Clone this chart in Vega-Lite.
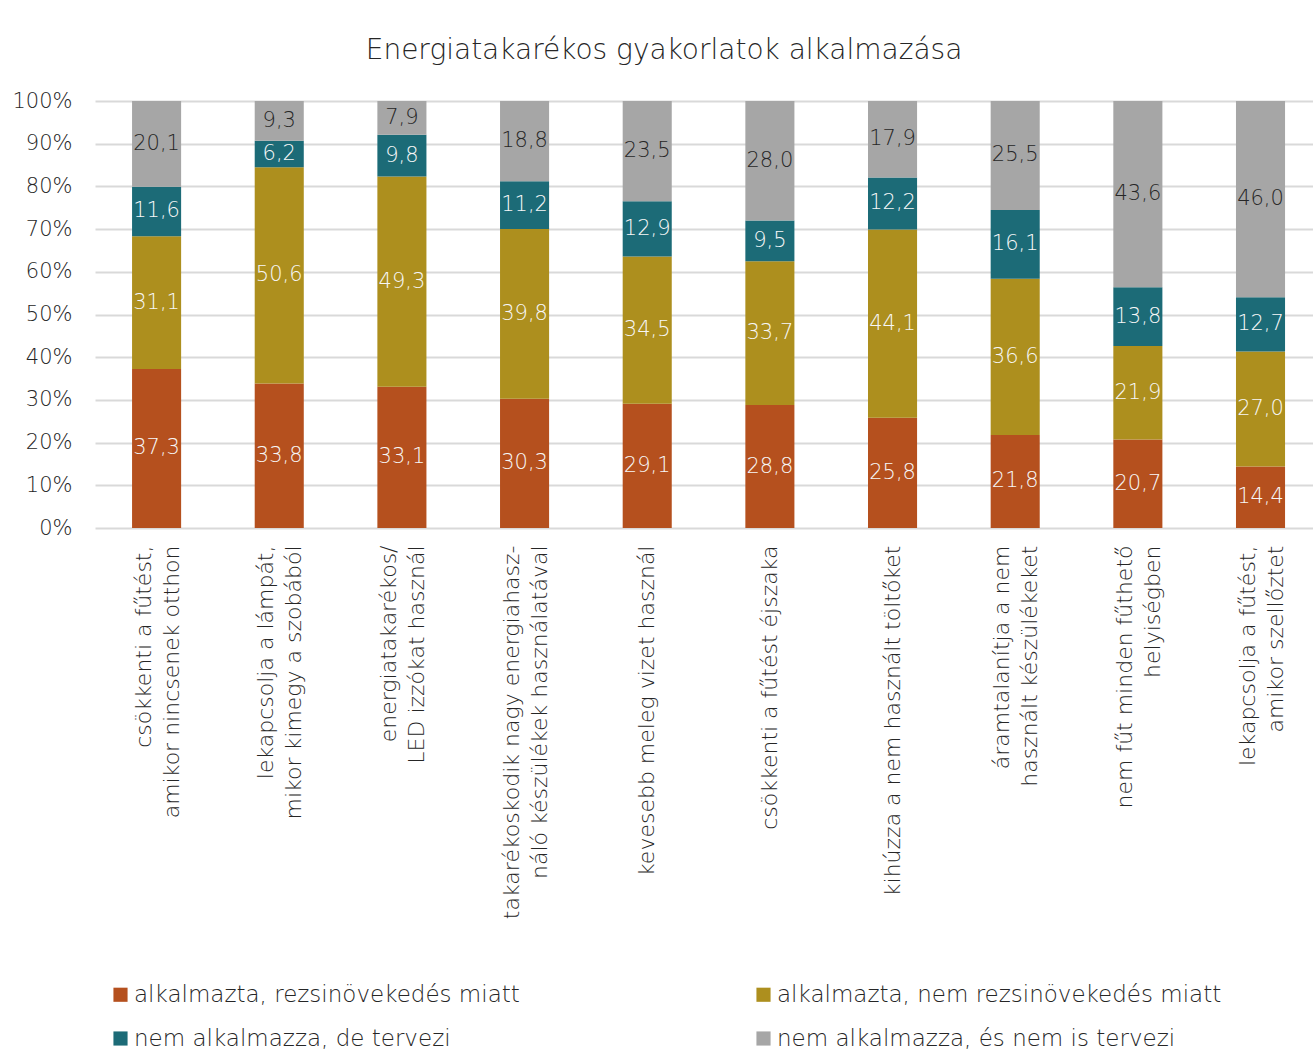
{
  "$schema": "https://vega.github.io/schema/vega-lite/v6.json",
  "width": 1218,
  "height": 427,
  "autosize": {"type": "none"},
  "padding": {"left": 95, "top": 101, "right": 0, "bottom": 536},
  "background": "white",
  "title": {"text": "Energiatakarékos gyakorlatok alkalmazása", "fontSize": 28, "font": "DejaVu Sans", "fontWeight": 200, "color": "#262626", "offset": 25, "anchor": "middle", "dx": -40},
  "config": {
    "locale": {"number": {"decimal": ",", "thousands": " ", "grouping": [3], "currency": ["", " €"], "percent": "%"}},
    "view": {"stroke": null},
    "font": "DejaVu Sans"
  },
  "data": {"values": [
    {"cat": "csökkenti a fűtést,|amikor nincsenek otthon", "ord": 1, "s": "alkalmazta, rezsinövekedés miatt", "so": 1, "v": 37.3},
    {"cat": "csökkenti a fűtést,|amikor nincsenek otthon", "ord": 1, "s": "alkalmazta, nem rezsinövekedés miatt", "so": 2, "v": 31.1},
    {"cat": "csökkenti a fűtést,|amikor nincsenek otthon", "ord": 1, "s": "nem alkalmazza, de tervezi", "so": 3, "v": 11.6},
    {"cat": "csökkenti a fűtést,|amikor nincsenek otthon", "ord": 1, "s": "nem alkalmazza, és nem is tervezi", "so": 4, "v": 20.1},
    {"cat": "lekapcsolja a lámpát,|mikor kimegy a szobából", "ord": 2, "s": "alkalmazta, rezsinövekedés miatt", "so": 1, "v": 33.8},
    {"cat": "lekapcsolja a lámpát,|mikor kimegy a szobából", "ord": 2, "s": "alkalmazta, nem rezsinövekedés miatt", "so": 2, "v": 50.6},
    {"cat": "lekapcsolja a lámpát,|mikor kimegy a szobából", "ord": 2, "s": "nem alkalmazza, de tervezi", "so": 3, "v": 6.2},
    {"cat": "lekapcsolja a lámpát,|mikor kimegy a szobából", "ord": 2, "s": "nem alkalmazza, és nem is tervezi", "so": 4, "v": 9.3},
    {"cat": "energiatakarékos/|LED izzókat használ", "ord": 3, "s": "alkalmazta, rezsinövekedés miatt", "so": 1, "v": 33.1},
    {"cat": "energiatakarékos/|LED izzókat használ", "ord": 3, "s": "alkalmazta, nem rezsinövekedés miatt", "so": 2, "v": 49.3},
    {"cat": "energiatakarékos/|LED izzókat használ", "ord": 3, "s": "nem alkalmazza, de tervezi", "so": 3, "v": 9.8},
    {"cat": "energiatakarékos/|LED izzókat használ", "ord": 3, "s": "nem alkalmazza, és nem is tervezi", "so": 4, "v": 7.9},
    {"cat": "takarékoskodik nagy energiahasz-|náló készülékek használatával", "ord": 4, "s": "alkalmazta, rezsinövekedés miatt", "so": 1, "v": 30.3},
    {"cat": "takarékoskodik nagy energiahasz-|náló készülékek használatával", "ord": 4, "s": "alkalmazta, nem rezsinövekedés miatt", "so": 2, "v": 39.8},
    {"cat": "takarékoskodik nagy energiahasz-|náló készülékek használatával", "ord": 4, "s": "nem alkalmazza, de tervezi", "so": 3, "v": 11.2},
    {"cat": "takarékoskodik nagy energiahasz-|náló készülékek használatával", "ord": 4, "s": "nem alkalmazza, és nem is tervezi", "so": 4, "v": 18.8},
    {"cat": "kevesebb meleg vizet használ", "ord": 5, "s": "alkalmazta, rezsinövekedés miatt", "so": 1, "v": 29.1},
    {"cat": "kevesebb meleg vizet használ", "ord": 5, "s": "alkalmazta, nem rezsinövekedés miatt", "so": 2, "v": 34.5},
    {"cat": "kevesebb meleg vizet használ", "ord": 5, "s": "nem alkalmazza, de tervezi", "so": 3, "v": 12.9},
    {"cat": "kevesebb meleg vizet használ", "ord": 5, "s": "nem alkalmazza, és nem is tervezi", "so": 4, "v": 23.5},
    {"cat": "csökkenti a fűtést éjszaka", "ord": 6, "s": "alkalmazta, rezsinövekedés miatt", "so": 1, "v": 28.8},
    {"cat": "csökkenti a fűtést éjszaka", "ord": 6, "s": "alkalmazta, nem rezsinövekedés miatt", "so": 2, "v": 33.7},
    {"cat": "csökkenti a fűtést éjszaka", "ord": 6, "s": "nem alkalmazza, de tervezi", "so": 3, "v": 9.5},
    {"cat": "csökkenti a fűtést éjszaka", "ord": 6, "s": "nem alkalmazza, és nem is tervezi", "so": 4, "v": 28.0},
    {"cat": "kihúzza a nem használt töltőket", "ord": 7, "s": "alkalmazta, rezsinövekedés miatt", "so": 1, "v": 25.8},
    {"cat": "kihúzza a nem használt töltőket", "ord": 7, "s": "alkalmazta, nem rezsinövekedés miatt", "so": 2, "v": 44.1},
    {"cat": "kihúzza a nem használt töltőket", "ord": 7, "s": "nem alkalmazza, de tervezi", "so": 3, "v": 12.2},
    {"cat": "kihúzza a nem használt töltőket", "ord": 7, "s": "nem alkalmazza, és nem is tervezi", "so": 4, "v": 17.9},
    {"cat": "áramtalanítja a nem|használt készülékeket", "ord": 8, "s": "alkalmazta, rezsinövekedés miatt", "so": 1, "v": 21.8},
    {"cat": "áramtalanítja a nem|használt készülékeket", "ord": 8, "s": "alkalmazta, nem rezsinövekedés miatt", "so": 2, "v": 36.6},
    {"cat": "áramtalanítja a nem|használt készülékeket", "ord": 8, "s": "nem alkalmazza, de tervezi", "so": 3, "v": 16.1},
    {"cat": "áramtalanítja a nem|használt készülékeket", "ord": 8, "s": "nem alkalmazza, és nem is tervezi", "so": 4, "v": 25.5},
    {"cat": "nem fűt minden fűthető|helyiségben", "ord": 9, "s": "alkalmazta, rezsinövekedés miatt", "so": 1, "v": 20.7},
    {"cat": "nem fűt minden fűthető|helyiségben", "ord": 9, "s": "alkalmazta, nem rezsinövekedés miatt", "so": 2, "v": 21.9},
    {"cat": "nem fűt minden fűthető|helyiségben", "ord": 9, "s": "nem alkalmazza, de tervezi", "so": 3, "v": 13.8},
    {"cat": "nem fűt minden fűthető|helyiségben", "ord": 9, "s": "nem alkalmazza, és nem is tervezi", "so": 4, "v": 43.6},
    {"cat": "lekapcsolja a fűtést,|amikor szellőztet", "ord": 10, "s": "alkalmazta, rezsinövekedés miatt", "so": 1, "v": 14.4},
    {"cat": "lekapcsolja a fűtést,|amikor szellőztet", "ord": 10, "s": "alkalmazta, nem rezsinövekedés miatt", "so": 2, "v": 27.0},
    {"cat": "lekapcsolja a fűtést,|amikor szellőztet", "ord": 10, "s": "nem alkalmazza, de tervezi", "so": 3, "v": 12.7},
    {"cat": "lekapcsolja a fűtést,|amikor szellőztet", "ord": 10, "s": "nem alkalmazza, és nem is tervezi", "so": 4, "v": 46.0}
  ]},
  "encoding": {
    "x": {
      "field": "cat", "type": "nominal", "sort": {"field": "ord"}, "title": null,
      "scale": {"paddingInner": 0.6, "paddingOuter": 0.265, "align": 0.57},
      "axis": {
        "labelAngle": -90, "labelAlign": "right", "labelBaseline": "middle",
        "labelExpr": "split(datum.label, '|')",
        "labelFontSize": 22, "labelFont": "DejaVu Sans", "labelFontWeight": 200, "labelColor": "#262626",
        "labelLineHeight": 28, "labelPadding": 17, "labelLimit": 600, "labelOverlap": false,
        "labelOffset": {"condition": {"test": "indexof(datum.value, '|') >= 0", "value": -13}, "value": 0},
        "ticks": false, "domain": false, "grid": false
      }
    },
    "y": {
      "field": "v", "type": "quantitative", "stack": "normalize", "title": null,
      "scale": {"domain": [0, 1], "nice": false},
      "axis": {
        "format": ".0%", "values": [0, 0.1, 0.2, 0.3, 0.4, 0.5, 0.6, 0.7, 0.8, 0.9, 1],
        "labelFontSize": 21, "labelFont": "DejaVu Sans", "labelFontWeight": 200, "labelColor": "#262626",
        "labelPadding": 23, "labelOverlap": false, "labelFlush": false, "labelBaseline": "middle",
        "ticks": false, "domain": false,
        "grid": true, "gridColor": "#D9D9D9", "gridWidth": 2
      }
    },
    "order": {"field": "so"}
  },
  "layer": [
    {
      "mark": {"type": "bar"},
      "encoding": {
        "color": {
          "field": "s", "type": "nominal", "sort": {"field": "so"},
          "scale": {
            "domain": ["alkalmazta, rezsinövekedés miatt", "alkalmazta, nem rezsinövekedés miatt", "nem alkalmazza, de tervezi", "nem alkalmazza, és nem is tervezi"],
            "range": ["#B5501E", "#AD8F1E", "#1C6B77", "#A6A6A6"]
          },
          "legend": {
            "title": null, "orient": "none", "legendX": 14, "legendY": 882, "direction": "horizontal",
            "columns": 2, "columnPadding": 232, "rowPadding": 20,
            "symbolType": "square", "symbolSize": 200, "symbolStrokeWidth": 0, "symbolOffset": 0,
            "labelFontSize": 23, "labelFont": "DejaVu Sans", "labelFontWeight": 200, "labelColor": "#262626",
            "labelOffset": 2, "labelLimit": 600
          }
        }
      }
    },
    {
      "mark": {"type": "text", "fontSize": 21, "font": "DejaVu Sans", "fontWeight": 200, "baseline": "middle", "align": "center"},
      "encoding": {
        "y": {"field": "v", "type": "quantitative", "stack": "normalize", "bandPosition": 0.5},
        "text": {"field": "v", "type": "quantitative", "format": ".1f"},
        "color": {
          "condition": {"test": "datum.so === 4", "value": "#262626"},
          "value": "#F7F7F7"
        }
      }
    }
  ]
}
